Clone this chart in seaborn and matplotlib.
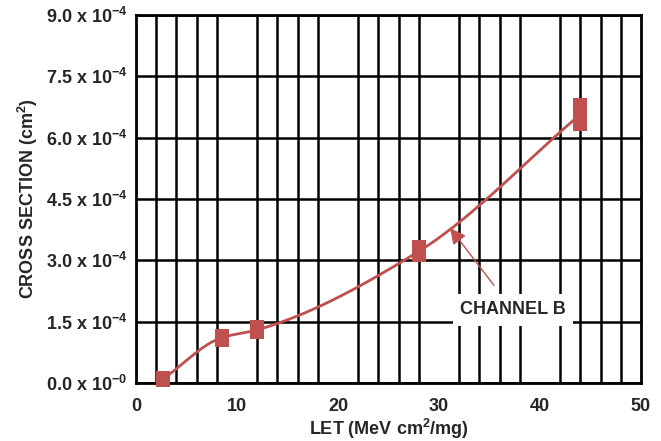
import numpy as np
import pandas as pd
import matplotlib
matplotlib.use("Agg")
import matplotlib.pyplot as plt
import seaborn as sns

# data
let_values = [2.7, 8.5, 12.0, 28.0, 44.0]            # MeV cm2/mg
cross_section = [0.10e-4, 1.11e-4, 1.30e-4, 3.22e-4, 6.57e-4]   # cm2
spread = [0.20e-4, 0.22e-4, 0.23e-4, 0.27e-4, 0.40e-4]          # half height of each bar

x_ticks = [0, 10, 20, 30, 40, 50]
y_ticks = [0, 1.5e-4, 3.0e-4, 4.5e-4, 6.0e-4, 7.5e-4, 9.0e-4]
y_labels = ["0.0 x 10$^{-0}$", "1.5 x 10$^{-4}$", "3.0 x 10$^{-4}$", "4.5 x 10$^{-4}$",
            "6.0 x 10$^{-4}$", "7.5 x 10$^{-4}$", "9.0 x 10$^{-4}$"]

red = "#c0504d"


def pchip(x, y, n=300):
    # monotone cubic through the points, for the smooth line
    x = np.asarray(x, float)
    y = np.asarray(y, float)
    h = np.diff(x)
    d = np.diff(y) / h
    m = np.zeros_like(y)
    for k in range(1, len(x) - 1):
        if d[k - 1] * d[k] > 0:
            w1 = 2 * h[k] + h[k - 1]
            w2 = h[k] + 2 * h[k - 1]
            m[k] = (w1 + w2) / (w1 / d[k - 1] + w2 / d[k])
    m[0] = d[0]
    m[-1] = d[-1]
    xs = np.linspace(x[0], x[-1], n)
    idx = np.clip(np.searchsorted(x, xs) - 1, 0, len(x) - 2)
    t = (xs - x[idx]) / h[idx]
    h00 = 2 * t**3 - 3 * t**2 + 1
    h10 = t**3 - 2 * t**2 + t
    h01 = -2 * t**3 + 3 * t**2
    h11 = t**3 - t**2
    ys = h00 * y[idx] + h10 * h[idx] * m[idx] + h01 * y[idx + 1] + h11 * h[idx] * m[idx + 1]
    return xs, ys


sns.set_style("white")
plt.rcParams["font.family"] = ["Liberation Sans", "DejaVu Sans"]
plt.rcParams["font.weight"] = "bold"
plt.rcParams["mathtext.fontset"] = "custom"
plt.rcParams["mathtext.rm"] = "Liberation Sans:bold"
plt.rcParams["mathtext.it"] = "Liberation Sans:bold"
plt.rcParams["mathtext.bf"] = "Liberation Sans:bold"

fig = plt.figure(figsize=(6.61, 4.41), dpi=100)
ax = fig.add_axes([0.2057, 0.1315, 0.764, 0.8345])

xs, ys = pchip(let_values, cross_section)
curve = pd.DataFrame({"LET": xs, "sigma": ys})
sns.lineplot(data=curve, x="LET", y="sigma", sort=False, color=red, lw=2, ax=ax, zorder=3)

bottoms = np.array(cross_section) - np.array(spread)
ax.bar(let_values, 2 * np.array(spread), bottom=bottoms, width=1.4,
       color=red, edgecolor="none", zorder=4, clip_on=False)

ax.annotate("CHANNEL B", xy=(31.1, 3.79e-4), xytext=(37.3, 1.79e-4),
            ha="center", va="center", fontsize=13, fontweight="bold",
            bbox=dict(boxstyle="square,pad=0.4", fc="white", ec="none"),
            arrowprops=dict(arrowstyle="-|>", color=red, lw=1, mutation_scale=24,
                            shrinkA=8, shrinkB=0),
            zorder=5)

ax.set_xlim(0, 50)
ax.set_ylim(0, 9e-4)
ax.set_xticks(x_ticks)
ax.set_xticks(np.arange(0, 51, 2), minor=True)
ax.set_yticks(y_ticks)
ax.set_yticklabels(y_labels)
ax.tick_params(axis="both", which="both", length=0, labelsize=13)
ax.tick_params(axis="x", pad=11)
ax.tick_params(axis="y", pad=6)
for lab in ax.get_xticklabels() + ax.get_yticklabels():
    lab.set_fontweight("bold")

ax.grid(axis="x", which="minor", color="black", lw=1.8)
ax.grid(axis="y", which="major", color="black", lw=1.8)
ax.grid(axis="x", which="major", visible=False)
ax.set_axisbelow(True)
for sp in ax.spines.values():
    sp.set_color("black")
    sp.set_linewidth(2)

ax.set_xlabel("LET (MeV cm$^2$/mg)", fontsize=13, fontweight="bold", labelpad=1)
ax.set_ylabel("CROSS SECTION (cm$^2$)", fontsize=13, fontweight="bold", labelpad=4)

fig.savefig("out.png", dpi=100)
